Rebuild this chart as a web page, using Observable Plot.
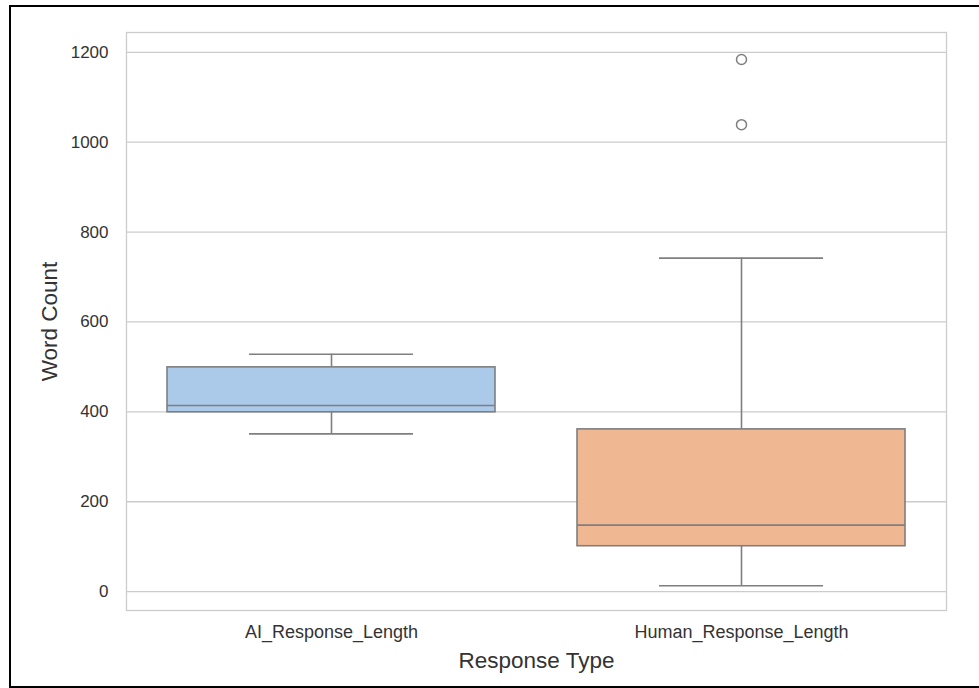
<!DOCTYPE html>
<html>
<head>
<meta charset="utf-8">
<script src="https://cdn.jsdelivr.net/npm/d3@7"></script>
<script src="https://cdn.jsdelivr.net/npm/@observablehq/plot@0.6"></script>
<style>
  html, body { margin: 0; padding: 0; background: #fff; overflow: hidden; }
  #wrap { position: relative; width: 979px; height: 688px; }
  #border { position: absolute; left: 9px; top: 5px; width: 985px; height: 679px; border: 2px solid #000; pointer-events: none; }
</style>
</head>
<body>
<div id="wrap"><div id="chart"></div><div id="border"></div></div>
<script>
const categories = ["AI_Response_Length", "Human_Response_Length"];
const q1 = [399, 101];
const median = [414, 148];
const q3 = [499, 361];
const whiskerLow = [351, 13];
const whiskerHigh = [528, 742];
const outlierCategory = ["Human_Response_Length", "Human_Response_Length"];
const outlierValue = [1184, 1039];
const yTicks = [0, 200, 400, 600, 800, 1000, 1200];
const fills = ["#abc9e9", "#efb792"];

const boxes = categories.map((c, i) => ({
  cat: c, q1: q1[i], med: median[i], q3: q3[i], lo: whiskerLow[i], hi: whiskerHigh[i], fill: fills[i]
}));
const outliers = outlierCategory.map((c, i) => ({cat: c, v: outlierValue[i]}));

const lineColor = "#7f7f7f";
const textColor = "#333333";

const chart = Plot.plot({
  width: 979,
  height: 688,
  marginLeft: 126,
  marginRight: 33,
  marginTop: 32,
  marginBottom: 78,
  style: {fontFamily: "'Liberation Sans', Arial, sans-serif", background: "transparent", color: textColor},
  x: {type: "band", domain: categories, padding: 0},
  y: {domain: [-42, 1244]},
  marks: [
    Plot.gridY(yTicks, {stroke: "#cccccc", strokeOpacity: 1, strokeWidth: 1.3}),
    Plot.frame({stroke: "#cccccc", strokeWidth: 1.3}),
    Plot.axisY(yTicks, {tickSize: 0, tickPadding: 18, fontSize: 17, label: null, fill: textColor, tickFormat: d => String(d)}),
    Plot.axisX({tickSize: 0, tickPadding: 15, fontSize: 18, label: null, fill: textColor}),
    Plot.ruleX(boxes, {x: "cat", y1: "q3", y2: "hi", stroke: lineColor, strokeWidth: 1.6}),
    Plot.ruleX(boxes, {x: "cat", y1: "lo", y2: "q1", stroke: lineColor, strokeWidth: 1.6}),
    Plot.tickY(boxes, {x: "cat", y: "hi", stroke: lineColor, strokeWidth: 1.6, insetLeft: 123, insetRight: 123}),
    Plot.tickY(boxes, {x: "cat", y: "lo", stroke: lineColor, strokeWidth: 1.6, insetLeft: 123, insetRight: 123}),
    Plot.barY(boxes, {x: "cat", y1: "q1", y2: "q3", fill: d => d.fill, stroke: lineColor, strokeWidth: 1.6, insetLeft: 41, insetRight: 41}),
    Plot.tickY(boxes, {x: "cat", y: "med", stroke: lineColor, strokeWidth: 1.6, insetLeft: 41, insetRight: 41}),
    Plot.dot(outliers, {x: "cat", y: "v", r: 5, stroke: lineColor, strokeWidth: 1.5, fill: "none"}),
    Plot.text(["Word Count"], {frameAnchor: "left", dx: -77, rotate: -90, textAnchor: "middle", lineAnchor: "middle", fontSize: 22.5, fill: textColor}),
    Plot.text(["Response Type"], {frameAnchor: "bottom", dy: 50, textAnchor: "middle", lineAnchor: "middle", fontSize: 22.5, fill: textColor})
  ]
});
document.getElementById("chart").appendChild(chart);
</script>
</body>
</html>
